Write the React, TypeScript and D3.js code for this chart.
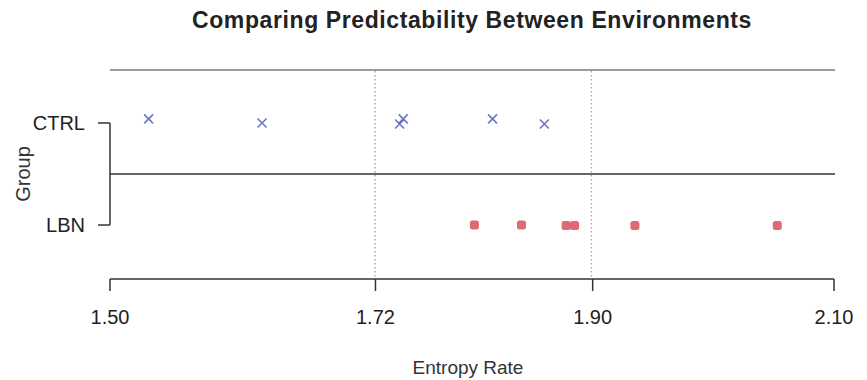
import React from "react";
import * as d3 from "d3";

const groups = ["CTRL", "LBN"];
const ctrlValues = [1.532, 1.626, 1.740, 1.743, 1.817, 1.860];
const ctrlJitter = [-0.04, 0.0, 0.01, -0.04, -0.04, 0.01];
const lbnValues = [1.802, 1.841, 1.878, 1.885, 1.935, 2.053];
const lbnJitter = [0.0, 0.0, 0.005, 0.005, 0.005, 0.005];
const xTicks = [1.5, 1.72, 1.9, 2.1];
const meanLines = [
  { group: "CTRL", value: d3.mean(ctrlValues) as number },
  { group: "LBN", value: d3.mean(lbnValues) as number },
];

const W = 867;
const H = 380;

export default function App() {
  const x = d3.scaleLinear().domain([1.5, 2.1]).range([110, 834]);
  // group position: CTRL = 1, LBN = 0
  const y = d3.scaleLinear().domain([-0.5, 1.5]).range([276, 72]);
  const gy = (g: string) => y(g === "CTRL" ? 1 : 0);
  const blue = "#5b68c0";
  const red = "#d9505c";
  const font = "'Liberation Sans', Arial, sans-serif";

  return (
    <svg width={W} height={H} style={{ position: "absolute", left: 0, top: 0 }} fontFamily={font}>
      <rect width={W} height={H} fill="#fff" />
      <text x={472} y={28} textAnchor="middle" fontSize={23} fontWeight="bold" letterSpacing={0.6} fill="#222">
        Comparing Predictability Between Environments
      </text>
      {/* top border line */}
      <line x1={110} x2={835} y1={70} y2={70} stroke="#7a7a7a" strokeWidth={1.4} />
      {/* middle separator */}
      <line x1={110} x2={835} y1={y(0.5)} y2={y(0.5)} stroke="#333" strokeWidth={1.5} />
      {/* mean lines */}
      {meanLines.map((m) => (
        <line
          key={m.group}
          x1={x(m.value)}
          x2={x(m.value)}
          y1={71}
          y2={279}
          stroke={m.group === "CTRL" ? "#8c96f0" : "#f5808c"}
          strokeWidth={1.3}
          strokeDasharray="1.5,2.5"
        />
      ))}
      {/* y axis bracket */}
      <line x1={110} x2={110} y1={gy("CTRL")} y2={gy("LBN")} stroke="#333" strokeWidth={1.5} />
      {groups.map((g) => (
        <g key={g}>
          <line x1={98} x2={110} y1={gy(g)} y2={gy(g)} stroke="#333" strokeWidth={1.5} />
          <text x={85} y={gy(g)} dy="0.36em" textAnchor="end" fontSize={20} fill="#222">
            {g}
          </text>
        </g>
      ))}
      <text
        transform={`translate(30,${y(0.5)}) rotate(-90)`}
        textAnchor="middle"
        fontSize={20}
        fill="#333"
      >
        Group
      </text>
      {/* x axis */}
      <line x1={x(1.5)} x2={x(2.1)} y1={279} y2={279} stroke="#333" strokeWidth={1.5} />
      {xTicks.map((t) => (
        <g key={t}>
          <line x1={x(t)} x2={x(t)} y1={279} y2={291} stroke="#333" strokeWidth={1.5} />
          <text x={x(t)} y={324} textAnchor="middle" fontSize={20} fill="#222">
            {t.toFixed(2)}
          </text>
        </g>
      ))}
      <text x={468} y={374} textAnchor="middle" fontSize={19} fill="#333">
        Entropy Rate
      </text>
      {/* CTRL points */}
      {ctrlValues.map((v, i) => {
        const cx = x(v);
        const cy = y(1 + ctrlJitter[i] * -1);
        const s = 4.5;
        return (
          <path
            key={"c" + i}
            d={`M${cx - s},${cy - s}L${cx + s},${cy + s}M${cx - s},${cy + s}L${cx + s},${cy - s}`}
            stroke={blue}
            strokeWidth={1.6}
            opacity={0.9}
          />
        );
      })}
      {/* LBN points */}
      {lbnValues.map((v, i) => {
        const cx = x(v);
        const cy = y(0 - lbnJitter[i]);
        const s = 9;
        return (
          <rect
            key={"l" + i}
            x={cx - s / 2}
            y={cy - s / 2}
            width={s}
            height={s}
            rx={2.5}
            fill={red}
            opacity={0.85}
          />
        );
      })}
    </svg>
  );
}
